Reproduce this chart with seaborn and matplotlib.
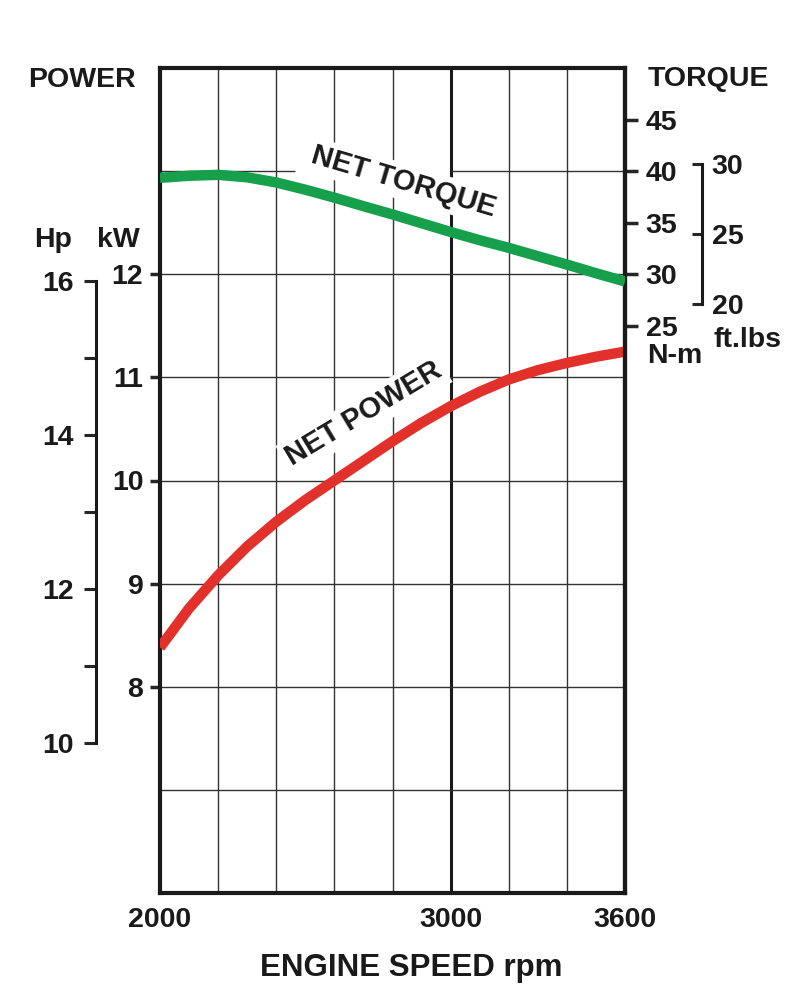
import numpy as np
import pandas as pd
import matplotlib
matplotlib.use("Agg")
import matplotlib.pyplot as plt
import seaborn as sns

# engine speed samples (rpm)
rpm = [2000, 2100, 2200, 2300, 2400, 2500, 2600, 2700, 2800,
       2900, 3000, 3100, 3200, 3300, 3400, 3500, 3600]
# net power (kW)
power_kw = [8.38, 8.76, 9.08, 9.36, 9.60, 9.81, 10.00, 10.19, 10.38,
            10.56, 10.72, 10.86, 10.98, 11.07, 11.14, 11.20, 11.25]
# net torque (N-m)
torque_nm = [39.35, 39.55, 39.64, 39.40, 38.90, 38.20, 37.43, 36.60, 35.80,
             34.95, 34.10, 33.30, 32.56, 31.75, 30.94, 30.10, 29.30]

kw_ticks = [8, 9, 10, 11, 12]
hp_ticks = [10, 11, 12, 13, 14, 15, 16]
hp_labels = ["10", "", "12", "", "14", "", "16"]
nm_ticks = [25, 30, 35, 40, 45]
ft_ticks = [20, 25, 30]
x_ticks = [2000, 3000, 3600]

KW_TO_HP = 1.34102
FTLB_TO_NM = 1.35582
GREEN = "#17a04b"
RED = "#e2302a"
GRID = "#333333"
INK = "#1a1a1a"
FS = 20.5

sns.set_style("white")
plt.rcParams["font.family"] = ["Liberation Sans", "DejaVu Sans"]
plt.rcParams["font.weight"] = "bold"

W, H = 800, 1002
fig = plt.figure(figsize=(W / 100, H / 100), dpi=100)
ax = fig.add_axes([160 / W, 1 - 893 / H, 465 / W, 825 / H])

df = pd.DataFrame({"rpm": rpm, "power": power_kw, "torque": torque_nm})

ax.set_xlim(2000, 3600)
ax.set_ylim(6, 14)

# grid
for x in range(2200, 3600, 200):
    if x == 3000:
        ax.axvline(x, color=INK, lw=2.2, zorder=1)
    else:
        ax.axvline(x, color=GRID, lw=1.0, zorder=1)
for y in [7, 8, 9, 10, 11, 12]:
    ax.axhline(y, color=GRID, lw=1.0, zorder=1)
ax.hlines(13, 2000, 2465, color=GRID, lw=1.0, zorder=1)
ax.hlines(13, 3000, 3600, color=GRID, lw=1.0, zorder=1)

for s in ax.spines.values():
    s.set_linewidth(3)
    s.set_color(INK)

# power curve in kW on main axis
sns.lineplot(data=df, x="rpm", y="power", ax=ax, color=RED, lw=7.5,
             solid_capstyle="butt", zorder=3)

ax.set_xticks(x_ticks)
ax.set_xticklabels([str(v) for v in x_ticks])
ax.set_yticks(kw_ticks)
ax.set_yticklabels([str(v) for v in kw_ticks])
ax.tick_params(axis="x", length=0, pad=10, labelsize=FS)
ax.tick_params(axis="y", length=7, width=2.5, pad=5, labelsize=FS, direction="out")
ax.set_xlabel("")
ax.set_ylabel("")

# torque axis (N-m) on the right spine
ax_nm = ax.twinx()
ax_nm.set_ylim(-30, 50)
sns.lineplot(data=df, x="rpm", y="torque", ax=ax_nm, color=GREEN, lw=7.5,
             solid_capstyle="butt", zorder=3)
ax_nm.set_yticks(nm_ticks)
ax_nm.set_yticklabels([str(v) for v in nm_ticks])
ax_nm.tick_params(axis="y", length=9, width=2.5, pad=6, labelsize=FS)
for k in ["left", "top", "bottom"]:
    ax_nm.spines[k].set_visible(False)
ax_nm.spines["right"].set_linewidth(3)
ax_nm.spines["right"].set_color(INK)
ax_nm.set_ylabel("")

# ft.lbs bracket
ax_ft = ax.twinx()
ax_ft.set_ylim(-30 / FTLB_TO_NM, 50 / FTLB_TO_NM)
for k in ["left", "top", "bottom"]:
    ax_ft.spines[k].set_visible(False)
ax_ft.spines["right"].set_position(("axes", (702 - 160) / 465))
ax_ft.spines["right"].set_bounds(20, 30)
ax_ft.spines["right"].set_linewidth(2.2)
ax_ft.spines["right"].set_color(INK)
ax_ft.set_yticks(ft_ticks)
ax_ft.set_yticklabels([str(v) for v in ft_ticks])
ax_ft.tick_params(axis="y", length=7, width=2.2, pad=7, labelsize=FS, direction="in")

# Hp bracket on the far left
ax_hp = ax.twinx()
ax_hp.set_ylim(6 * KW_TO_HP, 14 * KW_TO_HP)
for k in ["right", "top", "bottom"]:
    ax_hp.spines[k].set_visible(False)
ax_hp.spines["left"].set_visible(True)
ax_hp.spines["left"].set_position(("axes", -(160 - 96) / 465))
ax_hp.spines["left"].set_bounds(10, 16)
ax_hp.spines["left"].set_linewidth(2.2)
ax_hp.spines["left"].set_color(INK)
ax_hp.yaxis.set_ticks_position("left")
ax_hp.set_yticks(hp_ticks)
ax_hp.set_yticklabels(hp_labels)
ax_hp.tick_params(axis="y", length=9, width=2.2, pad=7, labelsize=FS)

for a in [ax, ax_nm, ax_ft, ax_hp]:
    for t in a.get_xticklabels() + a.get_yticklabels():
        t.set_fontweight("bold")
        t.set_color(INK)

# curve labels with white boxes hiding the grid
ax.text(404 / W, 1 - 182 / H, "NET TORQUE", transform=fig.transFigure,
        fontsize=21, fontweight="bold", rotation=-16.5, ha="center",
        va="center", color=INK, zorder=4,
        bbox=dict(facecolor="white", edgecolor="none", pad=3))
ax.text(364 / W, 1 - 414 / H, "NET POWER", transform=fig.transFigure,
        fontsize=21, fontweight="bold", rotation=31, ha="center",
        va="center", color=INK, zorder=4,
        bbox=dict(facecolor="white", edgecolor="none", pad=3))


def ftxt(x, y, s, ha="left", size=FS):
    fig.text(x / W, 1 - y / H, s, ha=ha, va="baseline", fontsize=size,
             fontweight="bold", color=INK)


ftxt(28, 87, "POWER")
ftxt(34, 247, "Hp")
ftxt(97, 247, "kW")
ftxt(648, 86, "TORQUE")
ftxt(647, 363, "N-m")
ftxt(713, 347, "ft.lbs")
ftxt(411, 976, "ENGINE SPEED rpm", ha="center", size=22.5)

fig.savefig("out.png", dpi=100, facecolor="white")
